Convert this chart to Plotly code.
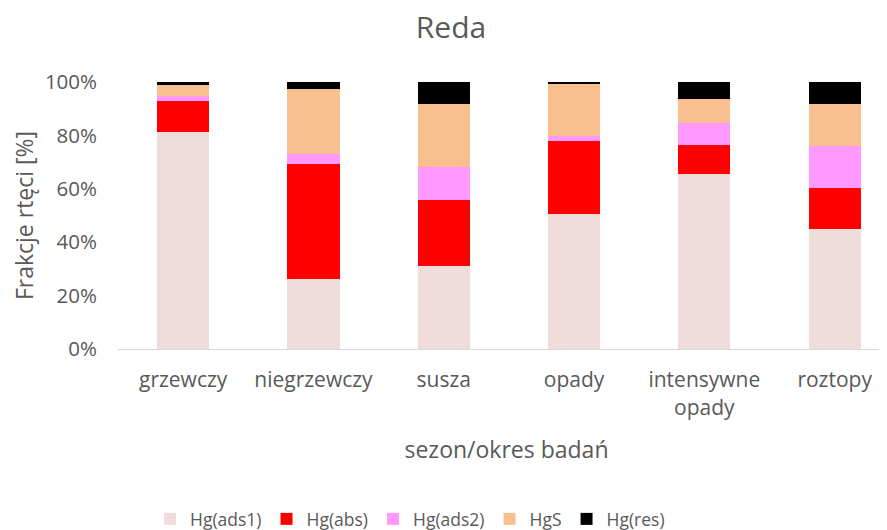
import plotly.graph_objects as go

categories = ["grzewczy", "niegrzewczy", "susza", "opady", "intensywne<br>opady", "roztopy"]
hg_ads1 = [81.3, 26.3, 31.1, 50.6, 65.6, 44.8]
hg_abs = [11.6, 43.1, 24.7, 27.2, 10.7, 15.6]
hg_ads2 = [1.9, 3.8, 12.2, 2.0, 8.2, 15.5]
hg_s = [4.2, 24.2, 23.7, 19.6, 9.0, 15.8]
hg_res = [1.0, 2.6, 8.3, 0.6, 6.5, 8.3]

series = [
    ("Hg(ads1)", hg_ads1, "#F0DCDB"),
    ("Hg(abs)", hg_abs, "#FF0000"),
    ("Hg(ads2)", hg_ads2, "#FF99FF"),
    ("HgS", hg_s, "#F9C08F"),
    ("Hg(res)", hg_res, "#000000"),
]

FONT = "Open Sans"
GREY = "#595959"
W, H = 887, 530
OFF = 8  # page body margin offset

fig = go.Figure()
for name, vals, col in series:
    fig.add_trace(go.Bar(
        x=categories, y=[v / 100 for v in vals], name=name,
        marker=dict(color=col, line=dict(width=0)),
    ))

fig.update_layout(
    barmode="stack",
    bargap=0.6,
    width=W, height=H,
    paper_bgcolor="white", plot_bgcolor="white",
    margin=dict(l=118 - OFF, r=0, t=82 - OFF, b=H - (349.3 - OFF), autoexpand=False),
    font=dict(family=FONT, color=GREY, size=20),
    title=dict(text="Reda", x=(451 - OFF) / W, xanchor="center", xref="container",
               y=1 - (27 - OFF) / H, yanchor="middle", yref="container",
               font=dict(size=30, color=GREY, family=FONT)),
    showlegend=True,
    legend=dict(orientation="h", xref="container", x=(410 - OFF) / W, xanchor="center",
                yref="container", y=(H - (519 - OFF)) / H, yanchor="middle",
                font=dict(size=17.5, color=GREY, family=FONT),
                traceorder="normal", itemwidth=30),
    xaxis=dict(range=[-0.5, -0.5 + (W - 118 + OFF) / 130.3], showgrid=False, showline=True,
               linecolor="#D9D9D9", linewidth=1, ticks="", automargin=False,
               ticklabelstandoff=12,
               tickfont=dict(size=21, color=GREY),
               title=dict(text="sezon/okres badań", font=dict(size=23, color=GREY),
                          standoff=22)),
    yaxis=dict(range=[0, 1], tickvals=[0, 0.2, 0.4, 0.6, 0.8, 1.0],
               tickformat=".0%", showgrid=False, showline=False, zeroline=False,
               ticks="", ticklabelstandoff=20, automargin=False,
               tickfont=dict(size=20.5, color=GREY),
               title=dict(text="Frakcje rtęci [%]", font=dict(size=23, color=GREY),
                          standoff=16)),
)

fig.write_html("out.html")
